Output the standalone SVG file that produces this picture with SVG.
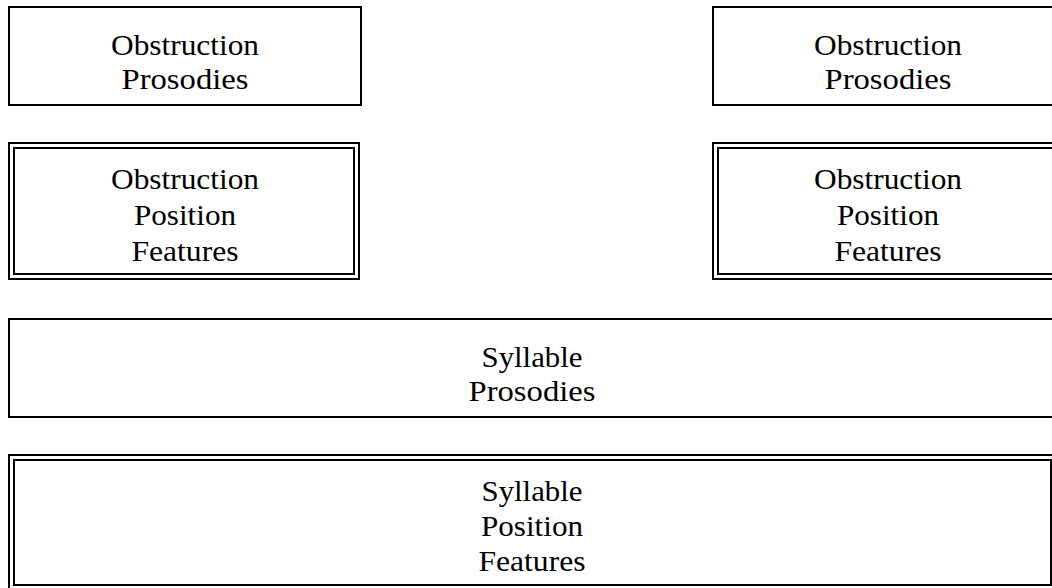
<svg xmlns="http://www.w3.org/2000/svg" width="1052" height="588" viewBox="0 0 1052 588">
<style>
  .b { fill: none; stroke: #000; stroke-width: 2; }
  .d { fill: none; stroke: #000; stroke-width: 2; }
  text { font-family: "Liberation Serif", "Times New Roman", serif; font-size: 30px; fill: #000; text-anchor: middle; }
</style>
<rect width="1052" height="588" fill="#fff"/>
<g id="obstruction-prosodies-left">
  <rect class="b" x="9" y="7" width="352" height="98"/>
  <text x="185" y="55" textLength="148" lengthAdjust="spacingAndGlyphs">Obstruction</text>
  <text x="185" y="89" textLength="127" lengthAdjust="spacingAndGlyphs">Prosodies</text>
</g>
<g id="obstruction-prosodies-right">
  <rect class="b" x="713" y="7" width="350" height="98"/>
  <text x="888" y="55" textLength="148" lengthAdjust="spacingAndGlyphs">Obstruction</text>
  <text x="888" y="89" textLength="127" lengthAdjust="spacingAndGlyphs">Prosodies</text>
</g>
<g id="obstruction-position-left">
  <rect class="d" x="9" y="143" width="350" height="136"/>
  <rect class="d" x="14" y="148" width="340" height="126"/>
  <text x="185" y="189" textLength="148" lengthAdjust="spacingAndGlyphs">Obstruction</text>
  <text x="185" y="225" textLength="102" lengthAdjust="spacingAndGlyphs">Position</text>
  <text x="185" y="261" textLength="107" lengthAdjust="spacingAndGlyphs">Features</text>
</g>
<g id="obstruction-position-right">
  <rect class="d" x="713" y="143" width="352" height="136"/>
  <rect class="d" x="718" y="148" width="342" height="126"/>
  <text x="888" y="189" textLength="148" lengthAdjust="spacingAndGlyphs">Obstruction</text>
  <text x="888" y="225" textLength="102" lengthAdjust="spacingAndGlyphs">Position</text>
  <text x="888" y="261" textLength="107" lengthAdjust="spacingAndGlyphs">Features</text>
</g>
<g id="syllable-prosodies">
  <rect class="b" x="9" y="319" width="1047" height="98"/>
  <text x="532" y="367" textLength="101" lengthAdjust="spacingAndGlyphs">Syllable</text>
  <text x="532" y="401" textLength="127" lengthAdjust="spacingAndGlyphs">Prosodies</text>
</g>
<g id="syllable-position">
  <rect class="d" x="9" y="455" width="1047" height="136"/>
  <rect class="d" x="14" y="460" width="1037" height="125"/>
  <text x="532" y="501" textLength="101" lengthAdjust="spacingAndGlyphs">Syllable</text>
  <text x="532" y="536" textLength="102" lengthAdjust="spacingAndGlyphs">Position</text>
  <text x="532" y="571" textLength="107" lengthAdjust="spacingAndGlyphs">Features</text>
</g>
<g id="connectors"></g>
</svg>
